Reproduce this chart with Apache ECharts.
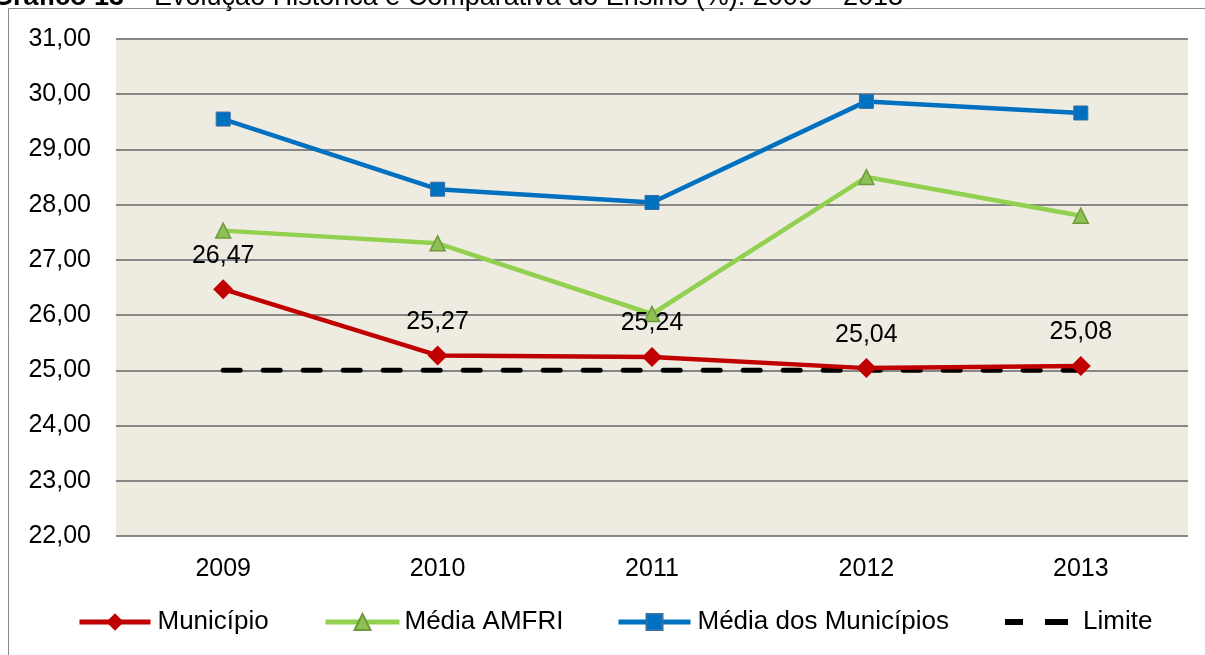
<!DOCTYPE html>
<html>
<head>
<meta charset="utf-8">
<script src="https://cdn.jsdelivr.net/npm/echarts@6/dist/echarts.min.js"></script>
<style>html,body{margin:0;padding:0;background:#fff}#c{width:1205px;height:655px}</style>
</head>
<body>
<div id="c"></div>
<script>
var categories = ['2009', '2010', '2011', '2012', '2013'];
var municipio = [26.47, 25.27, 25.24, 25.04, 25.08];
var mediaAmfri = [27.53, 27.30, 26.02, 28.50, 27.80];
var mediaMunicipios = [29.55, 28.28, 28.04, 29.87, 29.66];
var limite = [25, 25, 25, 25, 25];
var seriesNames = ['Município', 'Média AMFRI', 'Média dos Municípios', 'Limite'];
var yMin = 22, yMax = 31, yStep = 1;

function fmt(v) { return v.toFixed(2).replace('.', ','); }

var chart = echarts.init(document.getElementById('c'));
var font = 'Liberation Sans, Arial, sans-serif';
var legendLefts = [72, 318, 611, 1000];
var legendWidths = [71, 74, 72, 63];
var legendHeights = [22, 20, 20, 6];
var legendPads = [2, 0, 2, 10];
var legends = seriesNames.map(function (n, i) {
  var item = { name: n };
  if (i === 3) item.icon = 'path://M0,0h18v6h-18z M40,0h23v6h-23z';
  return {
    data: [item], left: legendLefts[i], top: 0, orient: 'horizontal',
    itemWidth: legendWidths[i], itemHeight: legendHeights[i], itemGap: 0,
    textStyle: { fontFamily: font, fontSize: 26, color: '#000', padding: [0, 0, 0, legendPads[i]] },
    lineStyle: { width: 5 },
    selectedMode: false
  };
});
legends.forEach(function (l, i) { l.top = 622 - Math.max(legendHeights[i], 26) / 2 - 5; });
chart.setOption({
  animation: false,
  backgroundColor: '#fff',
  graphic: [
    { type: 'rect', shape: { x: 8.5, y: 8.5, width: 1220, height: 680 }, style: { fill: 'none', stroke: '#8a8a8a', lineWidth: 1 }, z: 0 },
    { type: 'text', left: -8, top: -16, style: { text: '{b|Gráfico 13} – Evolução Histórica e Comparativa do Ensino (%): 2009 – 2013', font: '27px ' + font, fill: '#000',
      rich: { b: { fontWeight: 'bold', fontSize: 27, fontFamily: font } } }, z: 10 }
  ],
  legend: legends,
  grid: { left: 116, right: 17, top: 39, bottom: 119, show: true, backgroundColor: '#EEEBE0', borderWidth: 0 },
  xAxis: {
    type: 'category', data: categories, boundaryGap: true,
    axisLine: { show: false }, axisTick: { show: false },
    axisLabel: { fontFamily: font, fontSize: 25, color: '#000', margin: 21 }
  },
  yAxis: {
    type: 'value', min: yMin, max: yMax, interval: yStep,
    axisLine: { show: false }, axisTick: { show: false },
    axisLabel: { fontFamily: font, fontSize: 25, color: '#000', margin: 25, formatter: function (v) { return fmt(v); } },
    splitLine: { lineStyle: { color: '#878787', width: 2 } }
  },
  series: [
    {
      name: seriesNames[3], type: 'line', data: limite, symbol: 'none', z: 2,
      lineStyle: { color: '#000', width: 5, type: [17, 23], cap: 'round' }, itemStyle: { color: '#000' }
    },
    {
      name: seriesNames[2], type: 'line', data: mediaMunicipios, symbol: 'rect', symbolSize: 14, z: 3,
      lineStyle: { color: '#0070C0', width: 4.5 }, itemStyle: { color: '#0070C0', borderColor: '#3A6EA5', borderWidth: 1 }
    },
    {
      name: seriesNames[1], type: 'line', data: mediaAmfri, symbol: 'triangle', symbolSize: 15, z: 3,
      lineStyle: { color: '#92D050', width: 4.5 }, itemStyle: { color: '#8DC155', borderColor: '#6E9A3A', borderWidth: 1.5 }
    },
    {
      name: seriesNames[0], type: 'line', data: municipio, symbol: 'diamond', symbolSize: 20, z: 4,
      lineStyle: { color: '#C00000', width: 4.5 }, itemStyle: { color: '#C00000' },
      label: { show: true, position: 'top', distance: 11, fontFamily: font, fontSize: 25, color: '#000',
        formatter: function (p) { return fmt(p.value); } }
    }
  ]
});
</script>
</body>
</html>
